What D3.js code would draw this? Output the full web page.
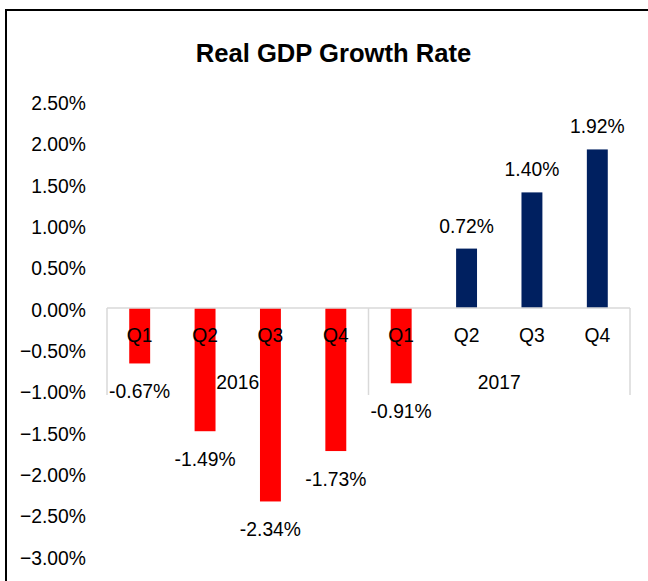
<!DOCTYPE html>
<html><head><meta charset="utf-8">
<script src="https://cdn.jsdelivr.net/npm/d3@7"></script>
<style>html,body{margin:0;padding:0;background:#fff;}svg{display:block;}</style>
</head><body>
<svg id="chart" width="648" height="581"></svg>
<script>
const title = "Real GDP Growth Rate";
const quarters = ["Q1","Q2","Q3","Q4","Q1","Q2","Q3","Q4"];
const years = ["2016","2016","2016","2016","2017","2017","2017","2017"];
const yearGroups = ["2016","2017"];
const values = [-0.67,-1.49,-2.34,-1.73,-0.91,0.72,1.40,1.92];
const valueLabels = ["-0.67%","-1.49%","-2.34%","-1.73%","-0.91%","0.72%","1.40%","1.92%"];
const yTicks = [2.5,2.0,1.5,1.0,0.5,0.0,-0.5,-1.0,-1.5,-2.0,-2.5,-3.0];

const font = "'Liberation Sans', Arial, sans-serif";
const FS = 21, SX = 0.92;
const svg = d3.select("#chart");
svg.append("rect").attr("width",648).attr("height",581).attr("fill","#fff");
// outer frame
svg.append("rect").attr("x",6).attr("y",10).attr("width",720).attr("height",700)
  .attr("fill","none").attr("stroke","#000").attr("stroke-width",2);

svg.append("text").attr("x",333.5).attr("y",61.5).attr("text-anchor","middle")
  .attr("font-family",font).attr("font-weight","bold").attr("font-size",25.6)
  .attr("fill","#000").text(title);

function label(parent, data, fx, fy, ftext, anchor) {
  const g = parent.append("g").selectAll("g").data(data).join("g")
    .attr("transform", d => `translate(${fx(d)},${fy(d)}) scale(${SX},1)`);
  g.append("text").attr("text-anchor", anchor || "middle")
    .attr("font-family",font).attr("font-size",FS).attr("fill","#000")
    .text(ftext);
  return g;
}

const idx = d3.range(values.length);
const x = d3.scaleBand().domain(idx).range([107,630]).padding(0);
const y = d3.scaleLinear().domain([-3,2.5]).range([556,101.5]);
const barW = x.bandwidth()*0.32;

// y axis labels (no axis line)
const fmt = d => d3.format(".2f")(d) + "%";
label(svg, yTicks, () => 86, d => y(d) + 8.5, fmt, "end");

// bars
svg.append("g").selectAll("rect").data(idx).join("rect")
  .attr("x", i => x(i) + (x.bandwidth()-barW)/2)
  .attr("width", barW)
  .attr("y", i => y(Math.max(0, values[i])))
  .attr("height", i => Math.abs(y(values[i]) - y(0)))
  .attr("fill", i => values[i] < 0 ? "#FF0000" : "#002060");

// category axis
const axisCol = "#d9d9d9";
const y0 = y(0);
svg.append("line").attr("x1",x.range()[0]).attr("x2",x.range()[1]).attr("y1",y0).attr("y2",y0)
  .attr("stroke",axisCol).attr("stroke-width",1.5);
const groupEdges = [x(0), x(4), x.range()[1]];
svg.append("g").selectAll("line").data(groupEdges).join("line")
  .attr("x1",d=>d).attr("x2",d=>d).attr("y1",y0).attr("y2",395)
  .attr("stroke",axisCol).attr("stroke-width",1.5);

// quarter labels
label(svg, idx, i => x(i) + x.bandwidth()/2, () => 342, i => quarters[i]);
// year labels
label(svg, yearGroups,
  g => { const ii = idx.filter(i => years[i]===g); return (x(ii[0]) + x(ii[ii.length-1]) + x.bandwidth())/2; },
  () => 389, g => g);

// data labels
label(svg, idx, i => x(i) + x.bandwidth()/2,
  i => values[i] < 0 ? y(values[i]) + 35 : y(values[i]) - 16,
  i => valueLabels[i]);
</script>
</body></html>
